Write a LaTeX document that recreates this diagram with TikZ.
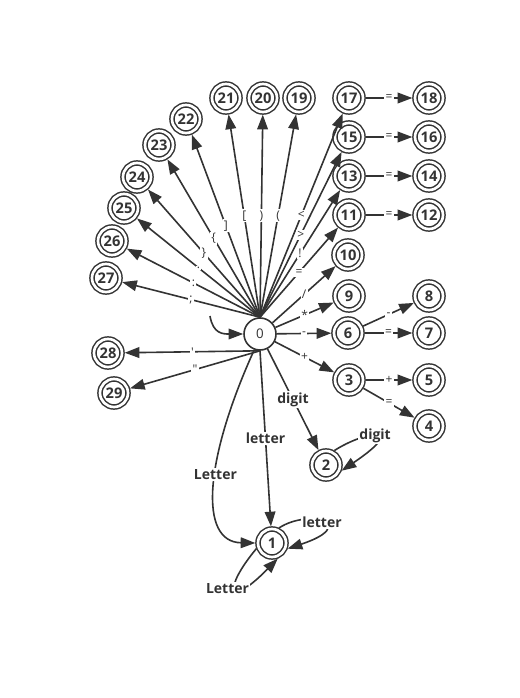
\documentclass[tikz,border=0pt]{standalone}
\usepackage{fontspec}
\setmainfont{Open Sans}
\usetikzlibrary{arrows.meta}
\definecolor{ink}{HTML}{333333}
\begin{document}
\begin{tikzpicture}[x=0.75pt,y=-0.75pt,ink,line width=1.2pt,
    >={Triangle[length=11pt,width=8pt]},
    start/.style={circle,draw,minimum size=24pt,inner sep=0pt,font=\fontsize{10}{12}\selectfont},
    acc/.style={circle,draw,double,double distance=2pt,line width=1.1pt,minimum size=21pt,
      inner sep=0pt,outer sep=2pt,font=\fontsize{11}{12}\selectfont\bfseries},
    sym/.style={fill=white,inner sep=1pt,font=\fontsize{9}{10}\selectfont},
    word/.style={fill=white,inner sep=1pt,font=\fontsize{10.5}{12}\selectfont\bfseries}]
  \useasboundingbox (0,0) rectangle (519,698);
  % states
  \node[start] (n0) at (260,334) {0};
  \node[acc] (n1) at (272,543) {1};
  \node[acc] (n2) at (326,465) {2};
  \node[acc] (n3) at (349,380) {3};
  \node[acc] (n4) at (429,426) {4};
  \node[acc] (n5) at (429,380) {5};
  \node[acc] (n6) at (348,333) {6};
  \node[acc] (n7) at (429,333) {7};
  \node[acc] (n8) at (429,296) {8};
  \node[acc] (n9) at (349,296) {9};
  \node[acc] (n10) at (348,255) {10};
  \node[acc] (n11) at (349,215) {11};
  \node[acc] (n12) at (429,215) {12};
  \node[acc] (n13) at (349,176) {13};
  \node[acc] (n14) at (429,176) {14};
  \node[acc] (n15) at (349,137) {15};
  \node[acc] (n16) at (429,137) {16};
  \node[acc] (n17) at (349,98) {17};
  \node[acc] (n18) at (429,98) {18};
  \node[acc] (n19) at (299,98) {19};
  \node[acc] (n20) at (263,98) {20};
  \node[acc] (n21) at (226,98) {21};
  \node[acc] (n22) at (186,119) {22};
  \node[acc] (n23) at (159,145) {23};
  \node[acc] (n24) at (137,177) {24};
  \node[acc] (n25) at (124,208) {25};
  \node[acc] (n26) at (112,241) {26};
  \node[acc] (n27) at (106,278) {27};
  \node[acc] (n28) at (108,353) {28};
  \node[acc] (n29) at (114,393) {29};
  % start arrow
  \coordinate (s) at (210,316);
  \draw[->] (s) .. controls +(3,18) and +(-20,0) .. (n0.west);
  % fan of single characters
  \draw[->] (n0.north) -- node[sym] {;} (n27);
  \draw[->] (n0.north) -- node[sym] {:} (n26);
  \draw[->] (n0.north) -- node[sym] {.} (n25);
  \draw[->] (n0.north) -- node[sym] {\}} (n24);
  \draw[->] (n0.north) -- node[sym] {\{} (n23);
  \draw[->] (n0.north) -- node[sym] {]} (n22);
  \draw[->] (n0.north) -- node[sym] {[} (n21);
  \draw[->] (n0.north) -- node[sym] {)} (n20);
  \draw[->] (n0.north) -- node[sym] {(} (n19);
  \draw[->] (n0.north) -- node[sym] {<} (n17);
  \draw[->] (n0.north) -- node[sym] {>} (n15);
  \draw[->] (n0.north) -- node[sym] {!} (n13);
  \draw[->] (n0.north) -- node[sym] {=} (n11);
  \draw[->] (n0) -- node[sym] {/} (n10);
  \draw[->] (n0) -- node[sym] {*} (n9);
  \draw[->] (n0) -- node[sym] {-} (n6);
  \draw[->] (n0) -- node[sym] {+} (n3);
  \draw[->] (n0.south) -- node[sym] {\textquotesingle} (n28);
  \draw[->] (n0.south) -- node[sym] {\textquotedbl} (n29);
  % second characters
  \draw[->] (n17) -- node[sym] {=} (n18);
  \draw[->] (n15) -- node[sym] {=} (n16);
  \draw[->] (n13) -- node[sym] {=} (n14);
  \draw[->] (n11) -- node[sym] {=} (n12);
  \draw[->] (n6) -- node[sym] {-} (n8);
  \draw[->] (n6) -- node[sym] {=} (n7);
  \draw[->] (n3) -- node[sym] {+} (n5);
  \draw[->] (n3) -- node[sym] {=} (n4);
  % numbers and identifiers
  \draw[->] (n0) -- node[word] {digit} (n2);
  \draw[->] (n2.60) .. controls +(31,-20) and +(68,-46) .. node[word] {digit} (n2.-20);
  \draw[->] (n0.south) -- node[word] {letter} (n1);
  \draw[->] (n0.250) .. controls +(-50,110) and +(-57,-1) .. node[word,pos=.44] {Letter} (n1.west);
  \draw[->] (n1.65) .. controls +(31,-20) and +(72,-24) .. node[word] {letter} (n1.-20);
  \draw[->] (n1.200) .. controls +(-34,41) and +(-50,51) .. node[word,xshift=-6pt] {Letter} (n1.-70);
\end{tikzpicture}
\end{document}
